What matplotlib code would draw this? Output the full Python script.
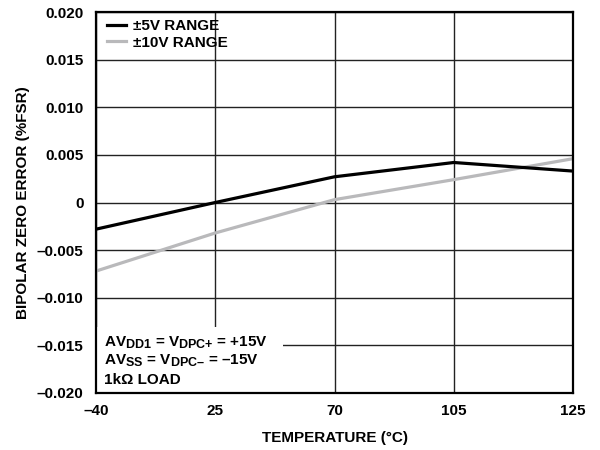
import matplotlib
matplotlib.use("Agg")
import matplotlib.pyplot as plt
from matplotlib.patches import Rectangle

try:
    import matplotlib._mathtext as _mt
    _mt.SHRINK_FACTOR = 0.82
except Exception:
    pass

plt.rcParams['font.family'] = ['Liberation Sans', 'DejaVu Sans']
plt.rcParams['font.weight'] = 'bold'
plt.rcParams['mathtext.fontset'] = 'custom'
plt.rcParams['mathtext.rm'] = 'Liberation Sans:bold'
plt.rcParams['mathtext.it'] = 'Liberation Sans:bold'
plt.rcParams['mathtext.bf'] = 'Liberation Sans:bold'
plt.rcParams['mathtext.default'] = 'rm'

temps = ['\u201340', '25', '70', '105', '125']
range_5v = [-0.0028, 0.0000, 0.0027, 0.0042, 0.0033]
range_10v = [-0.0072, -0.0032, 0.0003, 0.0024, 0.0046]
yticks = [-0.020, -0.015, -0.010, -0.005, 0.0, 0.005, 0.010, 0.015, 0.020]
ytick_labels = ['\u20130.020', '\u20130.015', '\u20130.010', '\u20130.005', '0',
                '0.005', '0.010', '0.015', '0.020']

FS = 11

fig = plt.figure(figsize=(6, 4.5), dpi=100)
ax = fig.add_axes([0.16, 0.1267, 0.795, 0.8466])

x = list(range(len(temps)))
ax.plot(x, range_5v, color='black', lw=2.3, label='\u00b15V RANGE', zorder=3)
ax.plot(x, range_10v, color='#b9b9bb', lw=2.3, label='\u00b110V RANGE', zorder=2)

ax.set_xlim(x[0], x[-1])
ax.set_ylim(-0.020, 0.020)
ax.set_xticks(x)
ax.set_xticklabels(temps)
ax.set_yticks(yticks)
ax.set_yticklabels(ytick_labels)
ax.tick_params(length=0, labelsize=FS)
ax.tick_params(axis='x', pad=8)
ax.tick_params(axis='y', pad=9)
ax.grid(True, color='#222222', lw=1.0)
ax.set_axisbelow(True)
for s in ax.spines.values():
    s.set_linewidth(1.6)
    s.set_color('black')

ax.set_xlabel('TEMPERATURE (\u00b0C)', fontsize=FS, fontweight='bold', labelpad=9)
ax.set_ylabel('BIPOLAR ZERO ERROR (%FSR)', fontsize=FS, fontweight='bold', labelpad=4.5)

# white background behind the conditions note
ax.add_patch(Rectangle((0, 0), 0.392, 0.173, transform=ax.transAxes,
                       facecolor='white', edgecolor='none', zorder=1))
ax.text(0.017, 0.1207, 'AV$_{\\mathrm{DD1}}$ = V$_{\\mathrm{DPC{+}}}$ = +15V',
        transform=ax.transAxes, fontsize=FS, fontweight='bold', va='baseline', zorder=4)
ax.text(0.017, 0.0735, 'AV$_{\\mathrm{SS}}$ = V$_{\\mathrm{DPC\u2013}}$ = \u201315V',
        transform=ax.transAxes, fontsize=FS, fontweight='bold', va='baseline', zorder=4)
ax.text(0.017, 0.0236, '1k\u03a9 LOAD',
        transform=ax.transAxes, fontsize=FS, fontweight='bold', va='baseline', zorder=4)

leg = ax.legend(loc='upper left', bbox_to_anchor=(0.008, 1.0), frameon=False,
                fontsize=FS, handlelength=1.24, handletextpad=0.46,
                labelspacing=0.18, borderaxespad=0.0, borderpad=0.45)
for t in leg.get_texts():
    t.set_fontweight('bold')

fig.savefig('out.png', dpi=100)
